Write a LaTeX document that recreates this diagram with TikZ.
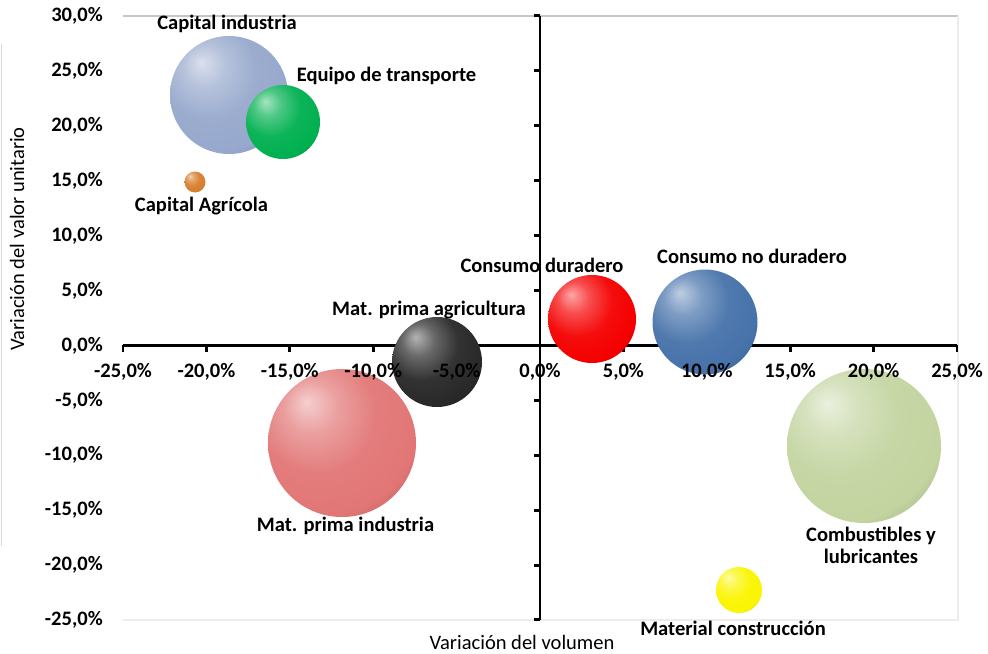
\documentclass[tikz,border=0pt]{standalone}
\usepackage{fontspec}
\setmainfont{Carlito}
\colorlet{bcol}{red}
\pgfdeclareradialshading[bcol]{sphere}{\pgfpoint{-12bp}{14bp}}{color(0bp)=(bcol!35!white); color(9bp)=(bcol!70!white); color(20bp)=(bcol!95!white); color(32bp)=(bcol); color(40bp)=(bcol!82!black); color(46bp)=(bcol!58!black); color(52bp)=(bcol!32!black); color(70bp)=(bcol!20!black)}
\definecolor{ciC}{RGB}{150,168,204}
\definecolor{etC}{RGB}{0,176,80}
\definecolor{caC}{RGB}{215,125,45}
\definecolor{mpaC}{RGB}{40,40,40}
\definecolor{cdC}{RGB}{245,0,0}
\definecolor{cndC}{RGB}{70,114,170}
\definecolor{mpiC}{RGB}{226,118,118}
\definecolor{clC}{RGB}{195,212,160}
\definecolor{mcC}{RGB}{250,245,0}
\begin{document}
\begin{tikzpicture}[x=0.75pt,y=-0.75pt,
  bub/.style={circle, inner sep=0pt, minimum size=#1, shade, shading=sphere},
  bc/.code={\colorlet{bcol}{#1}},
  lab/.style={font=\fontsize{15.4}{16.5}\selectfont\bfseries, inner sep=0pt},
  ttl/.style={font=\fontsize{15.4}{16.5}\selectfont, inner sep=0pt},
  axisline/.style={line width=2.2pt},
  frameline/.style={line width=0.9pt}
]
\useasboundingbox (0,0) rectangle (988,653);
% plot-area frame
\draw[frameline, gray!45] (123,16) -- (958,16);
\draw[frameline, gray!15] (958,16) -- (958,620) -- (123,620);
\draw[frameline, gray!30] (1.5,44) -- (1.5,546);
% axes
\coordinate (xl) at (123,345.4);
\coordinate (xr) at (957,345.4);
\coordinate (yt) at (540,16);
\coordinate (yb) at (540,620);
\draw[axisline] (xl) -- (xr);
\draw[axisline] (yt) -- (yb);
\foreach \v in {-25,-20,...,25}{
  \coordinate (xt\v) at ({540+\v*16.68},345.4);
  \draw[axisline] (xt\v) -- ++(0,6.5);
}
\foreach \v in {30,25,...,-25}{
  \coordinate (yt\v) at (540,{345.4-\v*10.982});
  \draw[axisline] (yt\v) -- ++(-6.5,0);
}
% bubbles
\node[bub=111pt, bc=mpiC] (mpi) at (342,443) {};
\node[bub=67.5pt, bc=mpaC] (mpa) at (437,362) {};
\node[bub=88.5pt, bc=ciC] (ci) at (229,95) {};
\node[bub=55.5pt, bc=etC] (et) at (283,122) {};
\node[bub=15.75pt, bc=caC] (ca) at (195,182) {};
\node[bub=66pt, bc=cdC] (cd) at (592,319) {};
\node[bub=78.75pt, bc=cndC] (cnd) at (705,322) {};
\node[bub=115.5pt, bc=clC] (cl) at (864,446) {};
\node[bub=34.5pt, bc=mcC] (mc) at (739,590) {};
% tick labels
\foreach \v in {-25,-20,...,25}{
  \node[lab, anchor=base] (xlab\v) at ({540+\v*16.68},377) {\v,0\%};
}
\foreach \v in {30,25,...,-25}{
  \node[lab, anchor=east] (ylab\v) at (103,{345.4-\v*10.982}) {\v,0\%};
}
% data labels
\node[lab] (lci) at (227,24) {Capital industria};
\node[lab] (let) at (386.5,75.5) {Equipo de transporte};
\node[lab] (lca) at (201.5,206.5) {Capital Agrícola};
\node[lab] (lcd) at (542,265.5) {Consumo duradero};
\node[lab] (lcnd) at (752,256.5) {Consumo no duradero};
\node[lab] (lmpa) at (429,310) {Mat. prima agricultura};
\node[lab] (lmpi) at (345.5,525.5) {Mat. prima industria};
\node[lab, align=center, anchor=north] (lcl) at (871,527) {Combustibles y\\lubricantes};
\node[lab] (lmc) at (733,628.5) {Material construcción};
% axis titles
\node[ttl] (xtitle) at (522,642.5) {Variación del volumen};
\node[ttl, rotate=90] (ytitle) at (17,239) {Variación del valor unitario};
\end{tikzpicture}
\end{document}
